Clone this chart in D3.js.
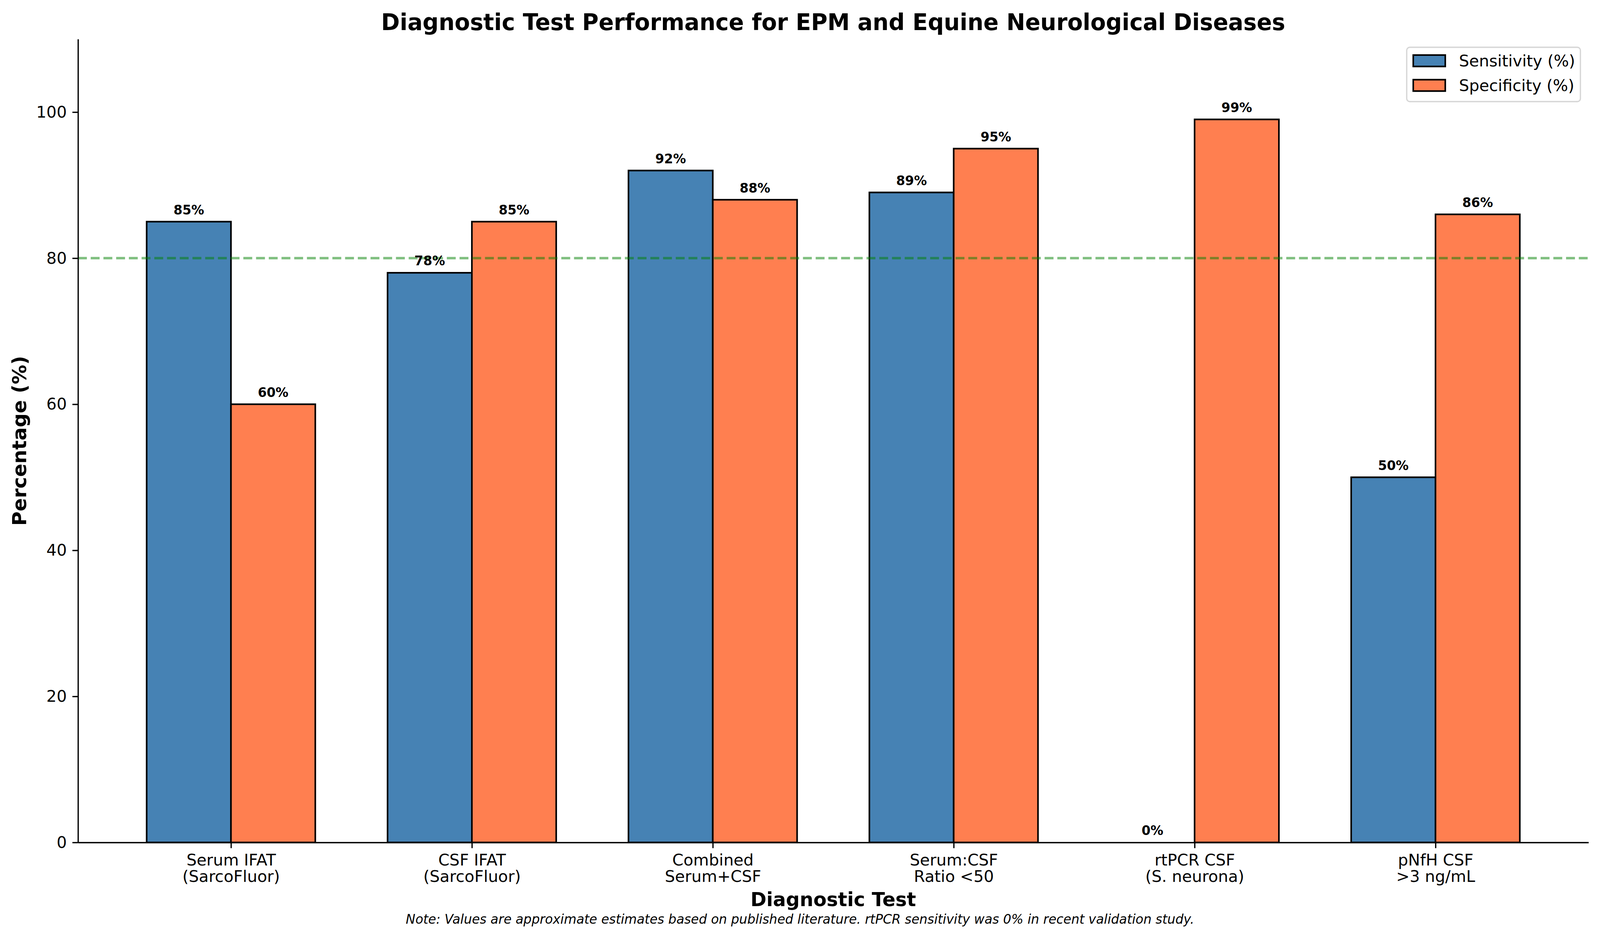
<!DOCTYPE html>
<html>
<head>
<meta charset="utf-8">
<script src="https://cdn.jsdelivr.net/npm/d3@7"></script>
<style>
  html, body { margin: 0; padding: 0; background: white; overflow: hidden; }
  svg { display: block; font-family: 'DejaVu Sans', sans-serif; }
</style>
</head>
<body>
<script>
// Data
let tests = [
  'Serum IFAT\n(SarcoFluor)',
  'CSF IFAT\n(SarcoFluor)',
  'Combined\nSerum+CSF',
  'Serum:CSF\nRatio <50',
  'rtPCR CSF\n(S. neurona)',
  'pNfH CSF\n>3 ng/mL'
];
let sensitivity = [85, 78, 92, 89, 0, 50];
let specificity = [60, 85, 88, 95, 99, 86];
let seriesNames = ['Sensitivity (%)', 'Specificity (%)'];
let yTicks = [0, 20, 40, 60, 80, 100];
let threshold = 80;

let
  width = 4164,
  height = 2398;

let margin = {
  top: 100,
  bottom: 2398 - 2156,
  left: 203,
  right: 4164 - 4134
}

let barW = 0.35;
let colors = ['#4682B4', '#FF7F50'];

// Canvas scales to whatever the window is
let svg = d3.select('body')
            .append('svg')
            .attr('viewBox', `0 0 ${width} ${height}`)
            .attr('preserveAspectRatio', 'none')
            .style('width', '100vw')
            .style('height', '100vh')
            .style('background', 'white')

// Scales: x over group index, y in percent
let xScale = d3.scaleLinear()
              .domain([-0.635, tests.length - 1 + 0.635])
              .range([margin.left, width - margin.right])

let yScale = d3.scaleLinear()
              .domain([0, 110])
              .range([height - margin.bottom, margin.top])

let pxW = xScale(barW) - xScale(0);

// Bars
let series = [sensitivity, specificity];
series.forEach((vals, si) => {
  svg.append('g')
    .selectAll('rect')
    .data(vals)
    .enter()
    .append('rect')
    .attr('x', (d, i) => xScale(i + (si === 0 ? -barW : 0)))
    .attr('y', d => yScale(d))
    .attr('width', pxW)
    .attr('height', d => yScale(0) - yScale(d))
    .attr('fill', colors[si])
    .attr('stroke', 'black')
    .attr('stroke-width', 4.17)
});

// Threshold line
svg.append('line')
  .attr('x1', xScale.range()[0])
  .attr('x2', xScale.range()[1])
  .attr('y1', yScale(threshold))
  .attr('y2', yScale(threshold))
  .attr('stroke', 'green')
  .attr('stroke-opacity', 0.5)
  .attr('stroke-width', 6.25)
  .attr('stroke-dasharray', '23.1,10')

// Axes
let yAxis = svg.append('g')
            .attr('transform', `translate(${margin.left},0)`)
            .call(d3.axisLeft(yScale).tickValues(yTicks).tickSizeInner(14.6).tickSizeOuter(0).tickPadding(14.6))

let xAxis = svg.append('g')
            .attr('transform', `translate(0,${height - margin.bottom})`)
            .call(d3.axisBottom(xScale).tickValues(d3.range(tests.length)).tickSizeInner(14.6).tickSizeOuter(0).tickFormat(''))

svg.selectAll('.domain').attr('stroke-width', 3.33)
svg.selectAll('.tick line').attr('stroke-width', 3.33)
yAxis.selectAll('text').style('font-size', '41.67px').style('font-family', 'DejaVu Sans')

// Two-line x tick labels
xAxis.selectAll('.tick').each(function(d) {
  let t = d3.select(this).append('text')
    .attr('fill', 'black')
    .attr('text-anchor', 'middle')
    .style('font-size', '41.67px')
    .style('font-family', 'DejaVu Sans')
  tests[d].split('\n').forEach((line, k) => {
    t.append('tspan').attr('x', 0).attr('y', 59 + k * 42).text(line)
  })
})

// Value labels
series.forEach((vals, si) => {
  svg.append('g')
    .selectAll('text')
    .data(vals)
    .enter()
    .append('text')
    .attr('x', (d, i) => xScale(i + (si === 0 ? -barW / 2 : barW / 2)))
    .attr('y', d => yScale(d + 1))
    .attr('text-anchor', 'middle')
    .style('font-size', '33.33px')
    .style('font-weight', 'bold')
    .text(d => d + '%')
});

// Title and axis labels
svg.append('text')
  .attr('x', (xScale.range()[0] + xScale.range()[1]) / 2)
  .attr('y', 77)
  .attr('text-anchor', 'middle')
  .style('font-size', '58.33px')
  .style('font-weight', 'bold')
  .text('Diagnostic Test Performance for EPM and Equine Neurological Diseases')

svg.append('text')
  .attr('x', (xScale.range()[0] + xScale.range()[1]) / 2)
  .attr('y', 2319)
  .attr('text-anchor', 'middle')
  .style('font-size', '50px')
  .style('font-weight', 'bold')
  .text('Diagnostic Test')

svg.append('text')
  .attr('transform', `translate(68,${(yScale.range()[0] + yScale.range()[1]) / 2}) rotate(-90)`)
  .attr('text-anchor', 'middle')
  .style('font-size', '50px')
  .style('font-weight', 'bold')
  .text('Percentage (%)')

svg.append('text')
  .attr('x', width / 2)
  .attr('y', 2364)
  .attr('text-anchor', 'middle')
  .style('font-size', '33.33px')
  .style('font-style', 'italic')
  .text('Note: Values are approximate estimates based on published literature. rtPCR sensitivity was 0% in recent validation study.')

// Legend
let legend = svg.append('g')
legend.append('rect')
  .attr('x', 3661)
  .attr('y', 121)
  .attr('width', 4113 - 3661)
  .attr('height', 260 - 121)
  .attr('rx', 8)
  .attr('fill', 'white')
  .attr('stroke', '#d6d6d6')
  .attr('stroke-width', 3.33)

seriesNames.forEach((name, i) => {
  let cy = 155.5 + i * 63;
  legend.append('rect')
    .attr('x', 3678)
    .attr('y', cy - 14.6)
    .attr('width', 83.3)
    .attr('height', 29.2)
    .attr('fill', colors[i])
    .attr('stroke', 'black')
    .attr('stroke-width', 4.17)
  legend.append('text')
    .attr('x', 3797)
    .attr('y', cy + 14.5)
    .style('font-size', '41.67px')
    .text(name)
})
</script>
</body>
</html>
